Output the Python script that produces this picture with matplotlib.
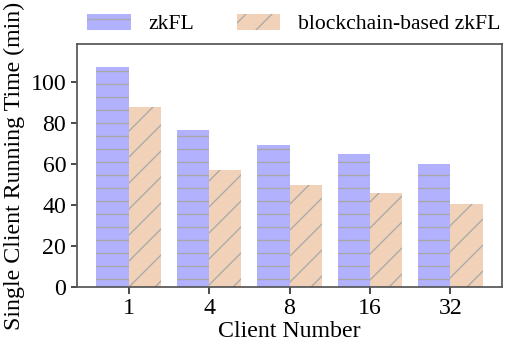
import matplotlib
matplotlib.use('Agg')
import matplotlib.pyplot as plt
import numpy as np

clients = ['1', '4', '8', '16', '32']
zkfl = [107.3, 76.6, 69.3, 64.9, 60.0]
bc_zkfl = [87.6, 57.0, 49.8, 45.7, 40.3]

plt.rcParams['font.family'] = ['Liberation Serif', 'DejaVu Serif']
plt.rcParams['hatch.color'] = '#a8a8a8'
plt.rcParams['hatch.linewidth'] = 0.6

dpi = 156
fig = plt.figure(figsize=(518/dpi, 350/dpi), dpi=dpi)
ax = fig.add_axes([77/518, 0.18, 425/518, 243/350])

x = np.arange(len(clients))
w = 0.4
ax.bar(x - w/2, zkfl, w, color='#b1b1fd', hatch='--', label='zkFL')
ax.bar(x + w/2, bc_zkfl, w, color='#f1d2b9', hatch='//', label='blockchain-based zkFL')

ax.set_xticks(x)
ax.set_xticklabels(clients)
ax.set_ylim(0, 118.5)
ax.set_yticks([0, 20, 40, 60, 80, 100])
ax.tick_params(labelsize=11, length=3, width=0.8, colors='#333333', labelcolor='black', pad=2)
for s in ax.spines.values():
    s.set_color('#555555')
    s.set_linewidth(0.8)

ax.set_xlabel('Client Number', fontsize=11, labelpad=1)
ax.set_ylabel('Single Client Running Time (min)', fontsize=11, labelpad=2.5)

ax.legend(loc='center', bbox_to_anchor=(0.51, 1.082), ncol=2, frameon=False,
          fontsize=10, handlelength=2.0, handleheight=0.75, handletextpad=0.8,
          columnspacing=2.0, borderpad=0)

fig.savefig('out.png', dpi=dpi)
